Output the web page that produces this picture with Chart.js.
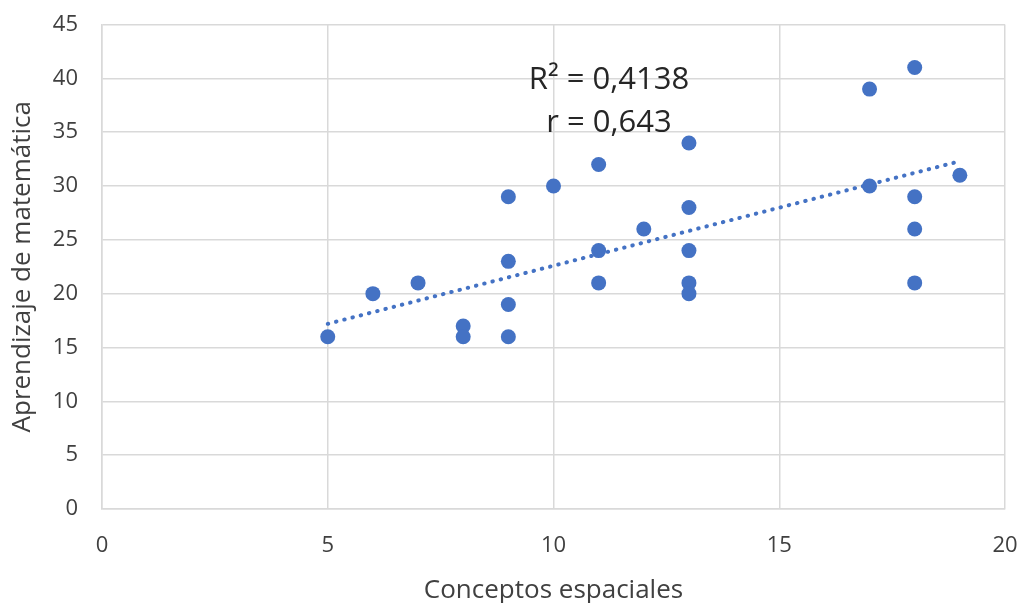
<!DOCTYPE html>
<html lang="es">
  <head>
    <meta charset="UTF-8" />
    <title>Conceptos espaciales vs Aprendizaje de matemática</title>
    <script src="https://cdn.jsdelivr.net/npm/chart.js"></script>
    <style>
      html, body { margin: 0; padding: 0; background: #fff; }
      .wrap { width: 1024px; height: 603px; }
    </style>
  </head>
  <body>
    <div class="wrap"><canvas id="chart" width="1024" height="603"></canvas></div>
    <script>
      // puntos
      const conceptos = [5, 6, 7, 8, 8, 9, 9, 9, 9, 10, 11, 11, 11, 12, 13, 13, 13, 13, 13, 17, 17, 18, 18, 18, 18, 19];
      const aprendizaje = [16, 20, 21, 17, 16, 29, 23, 19, 16, 30, 32, 24, 21, 26, 34, 28, 24, 21, 20, 39, 30, 41, 29, 26, 21, 31];

      // línea de tendencia (extremos)
      const trendX = [5, 19];
      const trendY = [17.2, 32.3];

      const statLines = ["R² = 0,4138", "r = 0,643"];
      const statPosX = 11.23;
      const statPosY = [39.8, 35.8];

      const xTicks = [0, 5, 10, 15, 20];
      const yTicks = [0, 5, 10, 15, 20, 25, 30, 35, 40, 45];

      const blue = "#4472C4";
      const grid = "#d9d9d9";
      const textColor = "#404040";
      const font = "'Open Sans', sans-serif";

      const statsLabel = {
        id: "statsLabel",
        afterDatasetsDraw(chart) {
          const { ctx, scales } = chart;
          ctx.save();
          ctx.fillStyle = "#262626";
          ctx.font = "31px " + font;
          ctx.textAlign = "center";
          ctx.textBaseline = "middle";
          statLines.forEach((t, i) => {
            ctx.fillText(t, scales.x.getPixelForValue(statPosX), scales.y.getPixelForValue(statPosY[i]));
          });
          ctx.restore();
        },
      };

      new Chart(document.getElementById("chart"), {
        type: "scatter",
        data: {
          datasets: [
            {
              type: "line",
              data: trendX.map((x, i) => ({ x, y: trendY[i] })),
              borderColor: blue,
              borderWidth: 4,
              borderDash: [0.5, 8],
              borderCapStyle: "round",
              pointRadius: 0,
              fill: false,
            },
            {
              data: conceptos.map((x, i) => ({ x, y: aprendizaje[i] })),
              backgroundColor: blue,
              borderColor: blue,
              borderWidth: 0,
              pointRadius: 7.5,
            },
          ],
        },
        options: {
          responsive: false,
          animation: false,
          layout: { autoPadding: false, padding: { top: 24.5, right: 19, left: 0, bottom: 0 } },
          plugins: { legend: { display: false }, tooltip: { enabled: false } },
          scales: {
            x: {
              type: "linear",
              min: 0,
              max: 20,
              afterBuildTicks: (s) => { s.ticks = xTicks.map((v) => ({ value: v })); },
              afterFit: (s) => { s.height = 94; s.paddingLeft = 0; s.paddingRight = 0; },
              grid: { color: grid, lineWidth: 1.5, drawTicks: false },
              border: { color: grid, width: 1.5 },
              ticks: { color: textColor, font: { family: font, size: 22 }, padding: 24 },
              title: {
                display: true,
                text: "Conceptos espaciales",
                color: textColor,
                font: { family: font, size: 26 },
                padding: { top: 0, bottom: -3 },
              },
            },
            y: {
              type: "linear",
              min: 0,
              max: 45,
              afterBuildTicks: (s) => { s.ticks = yTicks.map((v) => ({ value: v })); },
              afterFit: (s) => { s.width = 102; s.paddingTop = 0; s.paddingBottom = 0; },
              grid: { color: grid, lineWidth: 1.5, drawTicks: false },
              border: { color: grid, width: 1.5 },
              ticks: { color: textColor, font: { family: font, size: 22 }, padding: 24 },
              title: {
                display: true,
                text: "Aprendizaje de matemática",
                color: textColor,
                font: { family: font, size: 26 },
                padding: { top: 7, bottom: 0 },
              },
            },
          },
        },
        plugins: [statsLabel],
      });
    </script>
  </body>
</html>
